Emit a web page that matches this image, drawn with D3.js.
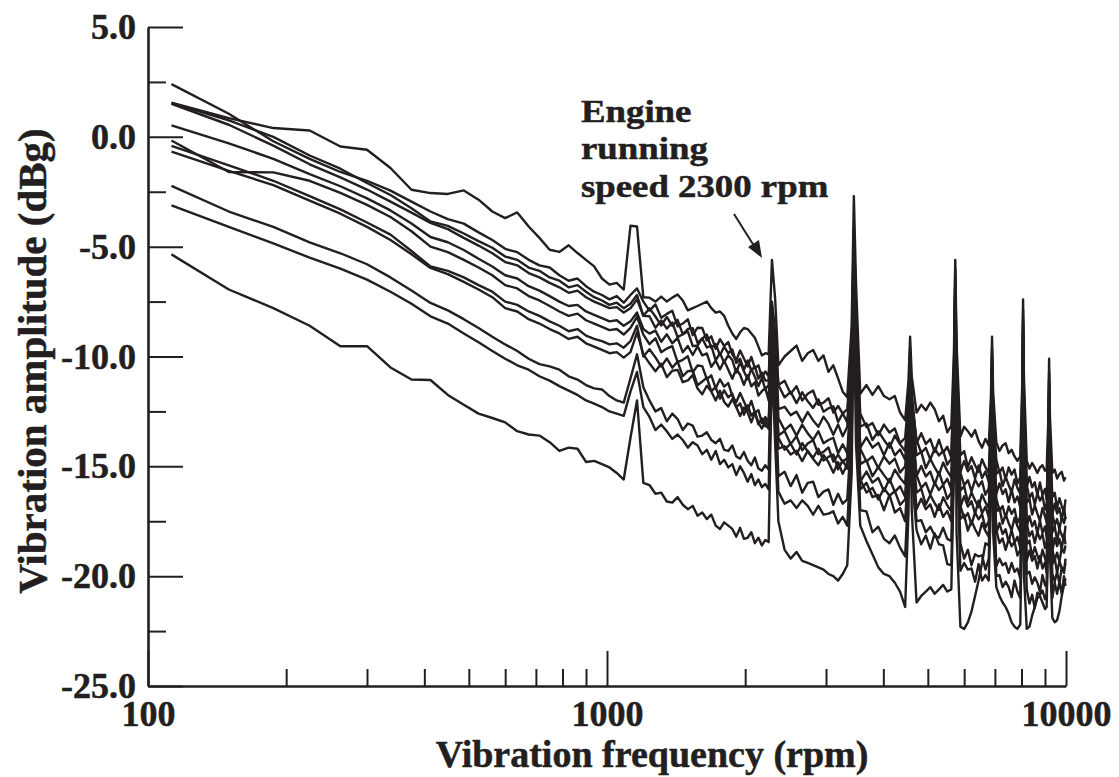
<!DOCTYPE html>
<html>
<head>
<meta charset="utf-8">
<script src="https://cdn.jsdelivr.net/npm/d3@7"></script>
<style>
  body { margin: 0; background: #fff; }
  text { font-family: "Liberation Serif", "Times New Roman", serif; font-weight: bold; fill: #231f20; stroke: #231f20; stroke-width: 0.5px; }
</style>
</head>
<body>
<div id="chart"></div>
<script>
// vibration spectra, 11 runs (dBg vs rpm)
var freq = [
  112.5,150,187.5,225,262.5,300,337.5,375,412.5,450,487.5,525,562.5,600,637.5,675,712.5,750,787.5,825,862.5,900,937.5,975,1012.5,1050,1087.5,
  1125,1162.5,
  1200,1237.5,1275,1312.5,1350,1387.5,1425,1462.5,1500,1537.5,1575,1612.5,1650,1687.5,1725,1762.5,1800,1837.5,1875,1912.5,1950,1987.5,2025,2062.5,2100,2137.5,2175,2212.5,2250,
  2287.5,2325,
  2362.5,2437.5,2512.5,2587.5,2662.5,2737.5,2812.5,2887.5,2962.5,3037.5,3112.5,3187.5,3262.5,3337.5,3412.5,
  3450,3487.5,
  3562.5,3675,3787.5,3900,4012.5,4125,4237.5,4350,4462.5,
  4537.5,4575,4612.5,
  4725,4837.5,4950,5062.5,5175,5287.5,5400,5512.5,5625,
  5700,5737.5,5775,
  5887.5,6000,6112.5,6225,6337.5,6450,6562.5,6675,6787.5,
  6862.5,6900,6937.5,
  7050,7162.5,7275,7387.5,7500,7612.5,7725,7837.5,7950,
  8025,8062.5,8100,
  8212.5,8325,8437.5,8550,8662.5,8775,8887.5,9000,9075,
  9150,9187.5,9225,
  9337.5,9450,9562.5,9675,9787.5,9900,9975
];

var s1 = [
  1.56,0.85,0.40,0.29,-0.44,-0.59,-1.42,-2.41,-2.56,-2.60,-2.44,-2.86,-3.40,-3.70,-3.44,-4.08,-4.60,-5.14,-5.24,-4.94,-5.29,-5.60,-5.90,-6.45,-6.73,-6.65,-6.95,
  -4.05,-4.08,
  -7.30,-7.32,-7.50,-7.27,-7.50,-7.32,-7.18,-7.45,-7.90,-7.80,-7.70,-7.60,-7.50,-7.80,-8.00,-7.95,-8.15,-8.60,-8.95,-9.20,-8.90,-8.70,-8.75,-8.95,-9.15,-9.55,-9.95,-9.85,-9.90,
  -5.60,-7.40,
  -10.40,-10.00,-9.75,-9.50,-10.20,-9.85,-9.70,-10.20,-9.95,-10.70,-10.40,-11.00,-11.60,-11.85,-8.60,
  -2.70,-6.70,
  -11.70,-11.30,-11.75,-11.35,-11.80,-11.95,-11.80,-12.55,-12.90,
  -11.10,-9.10,-10.90,
  -12.55,-12.20,-12.45,-12.10,-12.40,-12.95,-12.70,-13.45,-13.15,
  -9.80,-5.60,-9.40,
  -13.65,-13.20,-13.40,-13.65,-13.35,-13.85,-14.15,-13.75,-14.05,
  -11.80,-9.10,-11.60,
  -13.90,-14.30,-14.05,-13.95,-14.40,-14.25,-14.55,-14.75,-14.55,
  -11.40,-7.40,-11.10,
  -14.75,-15.10,-14.85,-15.05,-15.30,-15.05,-14.95,-15.20,-15.15,
  -12.90,-10.10,-12.70,
  -15.30,-15.15,-15.55,-15.35,-15.25,-15.65,-15.50
];

var s2 = [
  2.40,1.05,-0.20,-1.00,-1.60,-2.00,-2.45,-2.95,-3.40,-3.75,-3.95,-4.35,-4.70,-5.10,-5.25,-5.60,-5.85,-5.95,-6.30,-6.55,-6.45,-6.80,-7.05,-7.20,-7.40,-7.25,-7.55,
  -7.20,-6.90,
  -7.50,-7.91,-7.63,-8.24,-8.06,-7.92,-8.63,-8.50,-8.31,-9.03,-8.69,-8.70,-9.27,-9.08,-9.65,-9.21,-9.52,-9.34,-9.90,-10.17,-9.73,-10.09,-10.46,-10.02,-10.54,-10.40,-10.96,-10.68,-10.90,
  -7.50,-8.90,
  -11.30,-11.10,-11.70,-11.35,-12.00,-11.70,-11.55,-12.20,-12.10,-11.90,-12.55,-12.25,-12.60,-12.40,-9.70,
  -4.10,-8.00,
  -12.60,-13.21,-13.03,-13.59,-13.10,-13.46,-13.28,-13.94,-13.70,
  -11.85,-9.60,-11.65,
  -13.95,-13.49,-13.98,-13.76,-14.35,-13.79,-14.38,-14.11,-14.60,
  -10.60,-6.00,-10.20,
  -14.50,-14.31,-15.03,-14.59,-14.95,-15.26,-14.68,-15.04,-15.30,
  -12.60,-9.60,-12.35,
  -14.70,-15.28,-15.05,-15.58,-15.05,-15.38,-15.15,-15.78,-15.50,
  -12.10,-7.90,-11.75,
  -15.95,-15.48,-15.95,-15.73,-16.30,-15.73,-16.30,-16.03,-16.50,
  -13.80,-10.70,-13.50,
  -16.40,-16.20,-16.90,-16.45,-16.80,-17.10,-16.50
];

var s3 = [
  1.53,0.75,0.00,-0.85,-1.45,-2.10,-2.65,-3.25,-3.85,-4.05,-4.40,-4.75,-5.05,-5.45,-5.60,-5.95,-6.10,-6.40,-6.55,-6.85,-6.75,-7.05,-7.30,-7.45,-7.65,-7.55,-7.80,
  -7.60,-7.20,
  -8.15,-7.81,-8.18,-8.59,-8.20,-8.61,-8.33,-8.99,-8.75,-8.71,-9.38,-9.19,-9.00,-9.61,-9.43,-9.94,-9.55,-9.86,-9.68,-10.29,-10.10,-10.61,-10.18,-10.64,-10.45,-11.01,-10.73,-11.09,-11.10,
  -7.70,-9.10,
  -11.30,-11.86,-11.61,-12.12,-11.63,-12.04,-12.34,-11.95,-12.51,-12.36,-12.27,-12.98,-12.59,-12.99,-10.00,
  -4.40,-8.40,
  -13.20,-13.05,-13.80,-13.40,-13.80,-14.15,-13.60,-14.00,-14.30,
  -12.20,-9.90,-12.00,
  -13.80,-14.38,-14.16,-14.69,-14.18,-14.51,-14.29,-14.92,-14.65,
  -10.95,-6.30,-10.55,
  -15.25,-14.76,-15.23,-14.99,-15.55,-14.96,-15.53,-15.24,-15.70,
  -13.00,-9.90,-12.70,
  -15.35,-15.18,-15.90,-15.48,-15.85,-16.18,-15.60,-15.98,-16.25,
  -12.55,-8.30,-12.15,
  -15.85,-16.43,-16.21,-16.74,-16.23,-16.56,-16.34,-16.97,-16.70,
  -14.20,-11.00,-13.90,
  -17.20,-16.70,-17.15,-16.90,-17.45,-16.85,-17.40
];

var s4 = [
  1.50,0.55,-0.40,-1.25,-1.85,-2.40,-2.95,-3.45,-3.92,-4.20,-4.60,-4.95,-5.30,-5.70,-5.85,-6.20,-6.40,-6.65,-6.85,-7.10,-7.00,-7.30,-7.50,-7.65,-7.80,-7.75,-8.00,
  -7.80,-7.40,
  -8.15,-8.17,-8.69,-8.36,-8.73,-8.45,-9.12,-8.99,-8.86,-9.53,-9.50,-9.17,-9.59,-9.51,-10.18,-9.85,-10.27,-9.94,-10.16,-10.73,-10.25,-10.67,-11.04,-10.56,-10.93,-11.35,-10.97,-11.49,-11.30,
  -7.90,-9.30,
  -12.40,-12.29,-12.67,-12.51,-12.99,-12.53,-12.91,-13.20,-12.74,-13.07,-13.56,-13.09,-13.63,-13.21,-10.50,
  -4.80,-8.90,
  -14.15,-13.68,-14.15,-13.93,-14.50,-13.93,-14.50,-14.23,-14.70,
  -12.60,-10.20,-12.35,
  -14.50,-14.34,-15.08,-14.66,-15.05,-15.39,-14.83,-15.21,-15.50,
  -11.40,-6.60,-10.95,
  -15.30,-15.86,-15.63,-16.14,-15.60,-15.91,-15.68,-16.29,-16.00,
  -13.45,-10.20,-13.15,
  -16.25,-15.78,-16.26,-16.04,-16.63,-16.06,-16.64,-16.37,-16.85,
  -13.05,-8.60,-12.65,
  -16.65,-16.48,-17.20,-16.78,-17.15,-17.48,-16.90,-17.28,-17.55,
  -14.65,-11.30,-14.35,
  -17.15,-17.68,-17.40,-17.88,-17.30,-17.58,-17.30
];

var s5 = [
  0.52,-0.30,-1.00,-1.70,-2.25,-2.80,-3.35,-3.95,-4.56,-4.80,-5.15,-5.55,-5.90,-6.30,-6.45,-6.80,-7.00,-7.25,-7.50,-7.70,-7.65,-7.95,-8.10,-8.25,-8.40,-8.35,-8.60,
  -8.40,-8.00,
  -8.75,-8.96,-8.82,-9.33,-8.99,-9.40,-9.15,-9.81,-9.52,-9.93,-9.54,-9.95,-9.86,-10.47,-10.18,-10.59,-10.19,-10.60,-11.01,-10.57,-10.83,-11.29,-10.85,-11.36,-11.17,-11.78,-11.58,-11.44,-12.00,
  -8.20,-9.60,
  -12.80,-13.35,-13.10,-13.60,-13.10,-13.50,-13.80,-13.40,-13.95,-13.80,-13.70,-14.40,-14.00,-14.40,-11.20,
  -5.20,-9.40,
  -14.20,-14.78,-14.55,-15.08,-14.55,-14.88,-14.65,-15.28,-15.00,
  -13.00,-10.50,-12.75,
  -15.45,-14.98,-15.46,-15.24,-15.83,-15.26,-15.84,-15.57,-16.05,
  -11.85,-6.90,-11.35,
  -16.10,-15.91,-16.63,-16.19,-16.55,-16.86,-16.28,-16.64,-16.90,
  -13.95,-10.50,-13.65,
  -16.45,-17.03,-16.81,-17.34,-16.83,-17.16,-16.94,-17.57,-17.30,
  -13.60,-8.90,-13.15,
  -17.75,-17.26,-17.73,-17.49,-18.05,-17.46,-18.03,-17.74,-18.20,
  -15.10,-11.60,-14.80,
  -18.00,-17.73,-18.37,-17.85,-18.13,-18.37,-17.70
];

var s6 = [
  -0.17,-1.60,-1.62,-2.00,-2.55,-3.10,-3.65,-4.30,-5.00,-5.25,-5.60,-5.95,-6.30,-6.75,-6.90,-7.25,-7.45,-7.70,-7.95,-8.15,-8.05,-8.35,-8.50,-8.65,-8.80,-8.75,-9.00,
  -8.70,-8.20,
  -9.00,-9.44,-9.17,-9.81,-9.64,-9.53,-10.26,-10.15,-9.99,-10.72,-10.41,-10.44,-11.03,-10.86,-11.45,-11.04,-11.37,-11.21,-11.79,-12.08,-11.66,-12.05,-12.44,-12.02,-12.56,-12.44,-13.03,-12.76,-13.00,
  -8.50,-10.30,
  -13.60,-13.39,-13.99,-13.63,-14.27,-13.96,-13.81,-14.45,-14.34,-14.14,-14.78,-14.47,-14.81,-14.61,-11.65,
  -5.60,-9.80,
  -14.90,-14.73,-15.45,-15.03,-15.40,-15.73,-15.15,-15.53,-15.80,
  -13.40,-10.80,-13.15,
  -15.40,-15.98,-15.75,-16.28,-15.75,-16.08,-15.85,-16.48,-16.20,
  -12.20,-7.20,-11.75,
  -16.85,-16.36,-16.83,-16.59,-17.15,-16.56,-17.13,-16.84,-17.30,
  -14.30,-10.80,-13.95,
  -17.05,-16.88,-17.61,-17.19,-17.58,-17.91,-17.34,-17.72,-18.00,
  -13.90,-9.20,-13.50,
  -17.60,-18.18,-17.96,-18.49,-17.98,-18.31,-18.09,-18.72,-18.45,
  -15.50,-11.90,-15.20,
  -18.85,-18.27,-18.63,-18.30,-18.77,-18.08,-18.55
];

var s7 = [
  -0.41,-1.30,-2.00,-2.70,-3.30,-3.90,-4.45,-5.20,-5.90,-6.10,-6.40,-6.75,-7.05,-7.50,-7.65,-7.95,-8.15,-8.40,-8.60,-8.85,-8.75,-9.05,-9.20,-9.30,-9.45,-9.40,-9.60,
  -9.30,-8.60,
  -10.00,-9.67,-10.04,-10.46,-10.09,-10.51,-10.23,-10.90,-10.67,-10.64,-11.31,-11.14,-10.96,-11.58,-11.40,-11.92,-11.54,-11.86,-11.69,-12.31,-12.13,-12.65,-12.22,-12.69,-12.51,-13.09,-12.81,-13.18,-13.20,
  -8.80,-10.60,
  -13.70,-14.24,-13.97,-14.46,-13.94,-14.33,-14.61,-14.20,-14.74,-14.57,-14.46,-15.14,-14.73,-15.11,-11.90,
  -6.00,-10.25,
  -15.70,-15.24,-15.74,-15.53,-16.13,-15.57,-16.16,-15.91,-16.40,
  -13.85,-11.10,-13.60,
  -16.20,-16.02,-16.74,-16.31,-16.68,-16.99,-16.41,-16.78,-17.05,
  -12.65,-7.50,-12.15,
  -16.80,-17.36,-17.13,-17.64,-17.10,-17.41,-17.18,-17.79,-17.50,
  -14.70,-11.10,-14.35,
  -18.05,-17.59,-18.08,-17.86,-18.45,-17.89,-18.48,-18.21,-18.70,
  -14.45,-9.50,-14.00,
  -18.55,-18.38,-19.10,-18.68,-19.05,-19.38,-18.80,-19.18,-19.45,
  -16.05,-12.20,-15.70,
  -18.80,-19.27,-18.93,-19.35,-18.72,-18.93,-18.60
];

var s8 = [
  -0.67,-1.55,-2.20,-2.90,-3.50,-4.10,-4.70,-5.35,-5.97,-6.25,-6.60,-6.95,-7.30,-7.80,-7.95,-8.30,-8.50,-8.75,-8.95,-9.20,-9.10,-9.40,-9.55,-9.70,-9.85,-9.80,-10.05,
  -9.80,-8.90,
  -9.90,-10.31,-10.67,-10.33,-10.94,-10.65,-10.61,-11.17,-11.09,-10.85,-11.46,-11.72,-11.33,-11.59,-12.00,-11.56,-12.07,-12.28,-11.94,-12.30,-12.71,-12.32,-12.54,-13.00,-12.56,-13.02,-13.28,-12.94,-13.30,
  -9.10,-10.80,
  -14.20,-14.08,-14.46,-14.29,-14.76,-14.29,-14.67,-14.95,-14.48,-14.81,-15.29,-14.81,-15.34,-14.92,-12.20,
  -6.40,-10.70,
  -15.60,-16.19,-15.98,-16.51,-16.00,-16.34,-16.13,-16.76,-16.50,
  -14.25,-11.40,-13.95,
  -16.95,-16.48,-16.95,-16.73,-17.30,-16.73,-17.30,-17.03,-17.50,
  -13.00,-7.80,-12.55,
  -17.40,-17.21,-17.93,-17.49,-17.85,-18.16,-17.58,-17.94,-18.20,
  -15.05,-11.40,-14.75,
  -17.90,-18.49,-18.28,-18.81,-18.30,-18.64,-18.43,-19.06,-18.80,
  -14.80,-9.80,-14.35,
  -19.30,-18.83,-19.30,-19.08,-19.65,-19.08,-19.65,-19.38,-19.85,
  -16.40,-12.50,-16.05,
  -19.45,-19.19,-19.83,-19.33,-19.62,-19.86,-19.20
];

var s9 = [
  -2.23,-3.40,-4.10,-4.80,-5.30,-5.80,-6.40,-7.00,-7.56,-7.90,-8.30,-8.70,-9.10,-9.45,-9.75,-10.10,-10.35,-10.45,-10.60,-10.90,-11.05,-11.30,-11.45,-11.50,-11.80,-12.00,-12.10,
  -11.00,-9.90,
  -11.40,-12.00,-12.50,-12.35,-12.95,-12.60,-12.85,-13.35,-13.05,-13.15,-13.65,-13.60,-13.45,-13.80,-13.95,-13.75,-14.25,-14.30,-14.05,-14.55,-14.65,-14.35,-14.75,-14.95,-14.60,-15.10,-15.20,-14.95,-15.15,
  -9.50,-11.80,
  -15.45,-15.25,-15.90,-15.40,-16.20,-15.75,-15.70,-16.40,-16.15,-16.05,-16.75,-16.25,-16.70,-16.50,-13.25,
  -6.80,-10.85,
  -16.05,-15.75,-16.40,-16.30,-17.00,-16.30,-17.10,-16.90,-17.50,
  -14.75,-11.70,-14.45,
  -17.50,-17.45,-18.00,-17.75,-18.15,-18.25,-17.80,-18.30,-18.40,
  -13.70,-8.10,-13.15,
  -18.50,-19.20,-18.80,-19.50,-19.00,-19.10,-19.05,-19.70,-19.20,
  -15.90,-11.70,-15.55,
  -19.55,-19.20,-19.50,-19.40,-19.85,-19.40,-19.80,-19.65,-20.10,
  -15.45,-10.10,-14.95,
  -19.90,-19.80,-20.35,-20.05,-20.30,-20.70,-19.95,-20.40,-20.50,
  -16.95,-12.80,-16.55,
  -19.90,-20.25,-19.80,-20.35,-19.60,-19.75,-19.40
];

var s10 = [
  -3.12,-4.10,-4.85,-5.50,-6.00,-6.50,-7.05,-7.60,-8.17,-8.50,-8.95,-9.35,-9.75,-10.10,-10.40,-10.60,-10.90,-11.10,-11.35,-11.55,-11.75,-12.00,-12.15,-12.30,-12.50,-12.60,-12.70,
  -11.60,-10.70,
  -12.30,-12.75,-13.35,-13.10,-13.40,-13.75,-13.55,-13.80,-14.15,-13.90,-14.05,-14.45,-14.25,-14.70,-14.30,-14.90,-14.70,-15.05,-14.90,-15.40,-15.00,-15.30,-15.70,-15.35,-15.85,-15.60,-15.95,-15.80,-16.05,
  -9.90,-12.35,
  -16.15,-16.70,-16.55,-16.90,-16.55,-16.80,-17.20,-16.80,-17.20,-17.15,-17.05,-17.60,-17.30,-17.70,-13.95,
  -7.20,-11.65,
  -17.00,-17.05,-18.00,-17.75,-18.30,-18.50,-18.15,-18.70,-19.10,
  -15.80,-12.00,-15.45,
  -17.90,-18.55,-18.15,-18.75,-18.05,-18.55,-18.60,-19.45,-19.50,
  -14.50,-8.40,-13.95,
  -19.75,-19.40,-19.70,-19.65,-20.25,-19.45,-20.20,-19.95,-20.20,
  -16.45,-12.00,-16.05,
  -20.00,-19.95,-20.50,-20.25,-20.50,-20.95,-20.20,-20.70,-21.00,
  -16.10,-10.40,-15.55,
  -20.60,-21.25,-20.85,-21.45,-20.75,-20.85,-20.65,-21.05,-20.80,
  -17.35,-13.10,-16.95,
  -21.00,-20.30,-20.80,-20.25,-20.80,-20.00,-20.45
];

var s11 = [
  -5.35,-6.95,-7.80,-8.60,-9.53,-9.53,-10.50,-11.05,-11.07,-11.75,-12.20,-12.60,-12.80,-13.00,-13.40,-13.55,-13.60,-13.90,-14.30,-14.15,-14.20,-14.80,-14.75,-14.90,-15.05,-15.30,-15.60,
  -13.70,-12.00,
  -15.75,-15.85,-16.25,-16.20,-16.60,-16.65,-16.40,-16.75,-16.95,-16.80,-17.25,-17.10,-17.40,-17.20,-17.70,-17.85,-17.55,-17.70,-17.85,-18.20,-17.80,-18.30,-18.25,-18.00,-18.50,-18.25,-18.60,-18.35,-18.45,
  -10.30,-14.00,
  -17.50,-18.80,-19.20,-18.90,-19.30,-19.40,-19.50,-19.60,-19.70,-19.90,-20.00,-20.20,-19.90,-19.50,-15.30,
  -7.60,-14.00,
  -17.70,-18.40,-19.00,-19.60,-19.90,-20.00,-20.30,-20.70,-21.40,
  -17.10,-12.30,-17.00,
  -21.20,-20.90,-20.70,-20.50,-20.80,-20.60,-20.40,-20.70,-20.60,
  -15.20,-8.70,-18.00,
  -22.30,-22.40,-22.10,-21.60,-20.90,-20.20,-19.40,-18.50,-18.60,
  -15.90,-12.30,-18.00,
  -20.50,-20.90,-21.20,-21.40,-21.70,-22.10,-22.30,-22.40,-22.20,
  -17.00,-10.70,-20.00,
  -22.40,-22.30,-21.80,-21.40,-21.00,-20.90,-21.20,-21.50,-21.40,
  -17.75,-13.40,-19.00,
  -21.90,-22.10,-22.00,-21.60,-20.90,-20.40,-20.10
];

var runs = [s1, s2, s3, s4, s5, s6, s7, s8, s9, s10, s11];

var yMajor = [5, 0, -5, -10, -15, -20, -25];
var yMinor = [2.5, -2.5, -7.5, -12.5, -17.5, -22.5];
var xMajor = [100, 1000, 10000];
var xMinor = [200, 300, 400, 500, 600, 700, 800, 900, 2000, 3000, 4000, 5000, 6000, 7000, 8000, 9000];
var noteLines = ["Engine", "running", "speed 2300 rpm"];

var width = 1119, height = 777;
var ink = "#231f20";

var svg = d3.select("#chart").append("svg")
    .attr("width", width)
    .attr("height", height);

var x = d3.scaleLog().domain([100, 10000]).range([148, 1066]);
var y = d3.scaleLinear().domain([-25, 5]).range([686, 27]);

// data lines
var line = d3.line()
    .defined(function(d){ return d[1] != null; })
    .x(function(d){ return x(d[0]); })
    .y(function(d){ return y(d[1]); });

svg.append("g").selectAll("path")
    .data(runs.map(function(r){ return freq.map(function(f, i){ return [f, r[i]]; }); }))
  .enter().append("path")
    .attr("d", line)
    .attr("fill", "none")
    .attr("stroke", ink)
    .attr("stroke-width", 2.4)
    .attr("stroke-linejoin", "round");

// y axis (ticks point inward)
svg.append("g")
    .attr("transform", "translate(148,0)")
    .call(d3.axisLeft(y).tickValues(yMajor).tickSize(-35).tickSizeOuter(0).tickPadding(12)
      .tickFormat(function(d){ return d.toFixed(1); }));

svg.append("g")
    .attr("transform", "translate(148,0)")
    .call(d3.axisLeft(y).tickValues(yMinor).tickSize(-18).tickFormat(""))
    .select(".domain").remove();

// x axis
svg.append("g")
    .attr("transform", "translate(0,686)")
    .call(d3.axisBottom(x).tickValues(xMajor).tickSize(-35).tickSizeOuter(0).tickPadding(14)
      .tickFormat(d3.format("d")));

svg.append("g")
    .attr("transform", "translate(0,686)")
    .call(d3.axisBottom(x).tickValues(xMinor).tickSize(-17).tickFormat(""))
    .select(".domain").remove();

svg.selectAll(".domain").attr("stroke", ink).attr("stroke-width", 2.6);
svg.selectAll(".tick line").attr("stroke", ink).attr("stroke-width", 2);
svg.selectAll(".tick text")
    .attr("font-family", "Liberation Serif, Times New Roman, serif")
    .attr("font-weight", "bold")
    .attr("font-size", 36)
    .attr("fill", ink);

// axis titles
svg.append("text")
    .attr("x", 652).attr("y", 767)
    .attr("text-anchor", "middle")
    .attr("font-size", 38)
    .text("Vibration frequency (rpm)");

svg.append("text")
    .attr("transform", "translate(46,361) rotate(-90)")
    .attr("text-anchor", "middle")
    .attr("font-size", 41)
    .text("Vibration amplitude (dBg)");

// annotation
var note = svg.append("g").attr("transform", "translate(581,0) scale(1.15,1)");
note.selectAll("text")
    .data(noteLines)
  .enter().append("text")
    .attr("x", 0)
    .attr("y", function(d, i){ return 122 + i * 37.5; })
    .attr("font-size", 32)
    .text(function(d){ return d; });

svg.append("line")
    .attr("x1", 734).attr("y1", 214)
    .attr("x2", 756).attr("y2", 249)
    .attr("stroke", ink).attr("stroke-width", 2);
svg.append("path")
    .attr("d", "M762,258 L748,247 L759,240 Z")
    .attr("fill", ink);
</script>
</body>
</html>
